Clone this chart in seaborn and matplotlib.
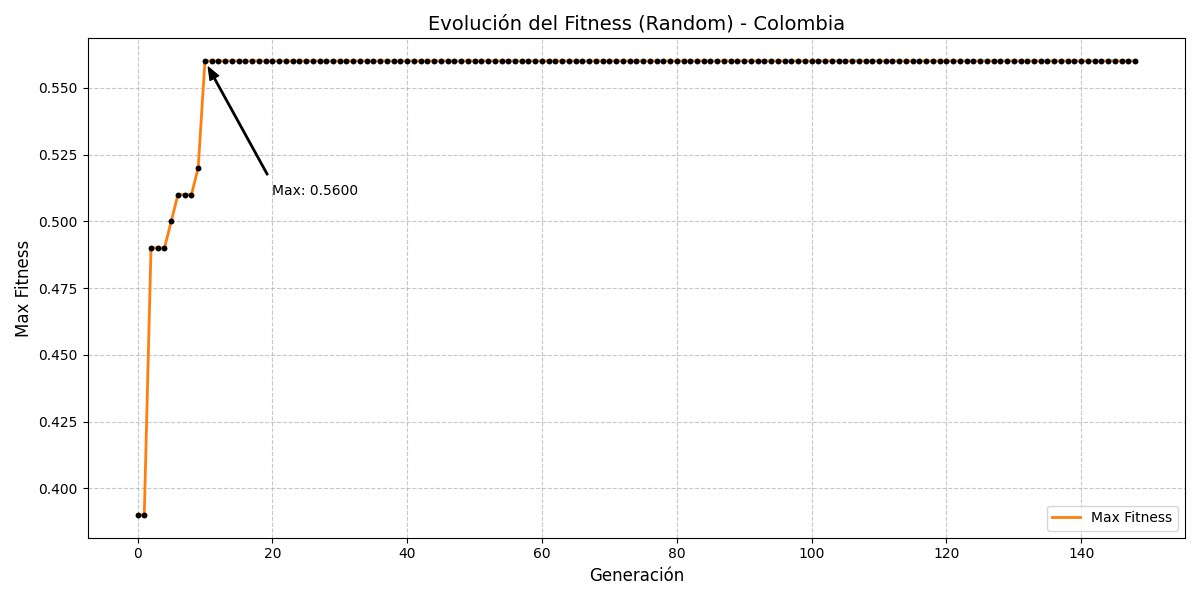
import numpy as np
import pandas as pd
import seaborn as sns
import matplotlib
matplotlib.use("Agg")
import matplotlib.pyplot as plt

# Max fitness per generation (0..148)
early_fitness = [0.39, 0.39, 0.49, 0.49, 0.49, 0.50, 0.51, 0.51, 0.51, 0.52]
plateau_fitness = [0.56] * 139
max_fitness = early_fitness + plateau_fitness
generations = list(range(len(max_fitness)))

df = pd.DataFrame({"Generación": generations, "Max Fitness": max_fitness})

fig, ax = plt.subplots(figsize=(12, 6), dpi=100)
sns.lineplot(data=df, x="Generación", y="Max Fitness", color="#ff7f0e",
             linewidth=2, label="Max Fitness", ax=ax)
sns.scatterplot(data=df, x="Generación", y="Max Fitness", color="black",
                s=18, edgecolor="black", linewidth=0, zorder=3, ax=ax)

best_idx = int(np.argmax(max_fitness))
best_val = max_fitness[best_idx]
ax.annotate(f"Max: {best_val:.4f}", xy=(best_idx, best_val),
            xytext=(best_idx + 10, best_val - 0.05),
            arrowprops=dict(facecolor="black", shrink=0.05, width=1, headwidth=7, headlength=9))

ax.set_title("Evolución del Fitness (Random) - Colombia", fontsize=14)
ax.set_xlabel("Generación", fontsize=12)
ax.set_ylabel("Max Fitness", fontsize=12)
ax.grid(True, linestyle="--", alpha=0.7)
ax.legend(loc="lower right")
plt.tight_layout()
plt.savefig("out.png")
